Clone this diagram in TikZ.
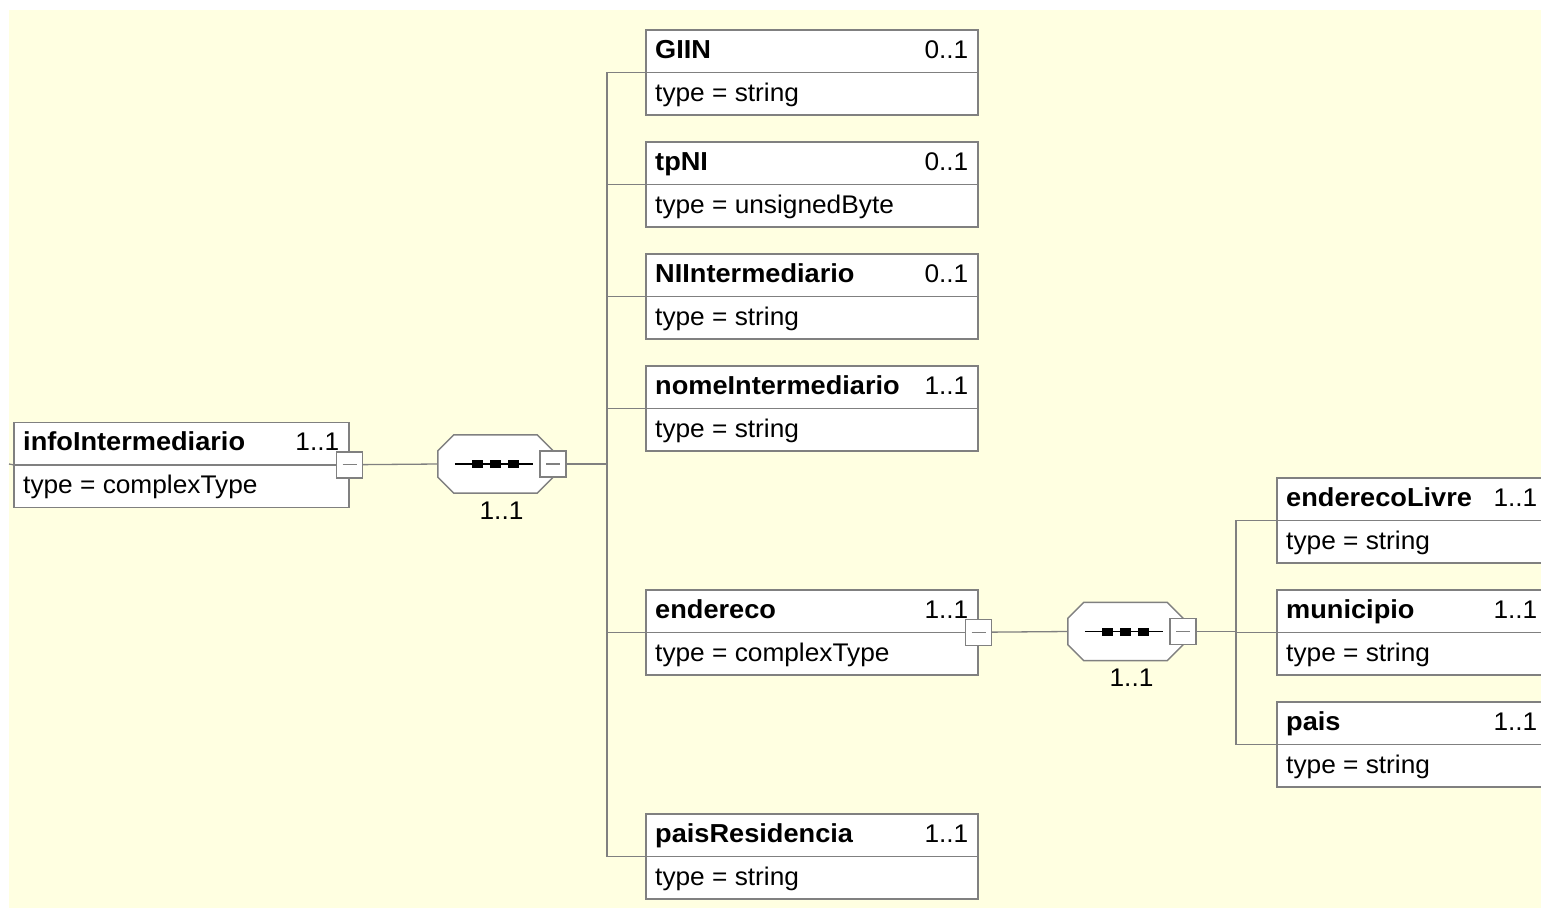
\documentclass[tikz,border=0pt]{standalone}
\usepackage{fontspec}
\setmainfont[FakeStretch=1.03, BoldFeatures={FakeStretch=1.045}]{Liberation Sans}

\definecolor{canvas}{RGB}{255,255,225}
\definecolor{edge}{RGB}{128,128,128}

\tikzset{
  elem/.style={draw=edge, fill=white, line width=1.5pt, anchor=north west, minimum height=85, inner sep=0pt},
  elname/.style={anchor=base west, inner sep=0pt, font=\fontsize{26}{30}\selectfont\bfseries},
  elmult/.style={anchor=base east, inner sep=0pt, font=\fontsize{25.5}{30}\selectfont},
  eltype/.style={anchor=base west, inner sep=0pt, font=\fontsize{25.5}{30}\selectfont},
  wire/.style={draw=edge, line width=1.3pt},
  minus/.style={draw=edge, fill=white, line width=1.5pt, minimum size=26, inner sep=0pt,
    path picture={\draw[edge, line width=1.3pt] ([xshift=6pt]path picture bounding box.west) -- ([xshift=-6pt]path picture bounding box.east);}},
  seq/.style={minimum width=115, minimum height=58, inner sep=0pt},
}

% element box: name, x, y, width, title, multiplicity, type
\newcommand{\elembox}[7]{%
  \node[elem, minimum width=#4] (#1) at (#2,#3) {};
  \draw[edge, line width=1.5pt] (#1.west) -- (#1.east);
  \node[elname] (#1-name) at ([xshift=10,yshift=-29]#1.north west) {#5};
  \node[elmult] (#1-mult) at ([xshift=-10,yshift=-29]#1.north east) {#6};
  \node[eltype] (#1-type) at ([xshift=10,yshift=-72]#1.north west) {type = #7};
}

% sequence compositor outline
\newcommand{\seqshape}[1]{%
  \draw[edge, fill=white, line width=1.5pt] ([xshift=16]#1.north west) -- ([xshift=-16]#1.north east)
    -- ([yshift=-16]#1.north east) -- ([yshift=16]#1.south east) -- ([xshift=-16]#1.south east)
    -- ([xshift=16]#1.south west) -- ([yshift=16]#1.south west) -- ([yshift=-16]#1.north west) -- cycle;
  \draw[line width=1.5pt] ([xshift=17]#1.west) -- ([xshift=95]#1.west);
  \fill ([xshift=34,yshift=4]#1.west) rectangle ++(11,8);
  \fill ([xshift=52,yshift=4]#1.west) rectangle ++(11,8);
  \fill ([xshift=70,yshift=4]#1.west) rectangle ++(11,8);
  \node[elmult, anchor=base] (#1-mult) at ([xshift=6,yshift=-26]#1.south) {1..1};
}

\begin{document}
\begin{tikzpicture}[x=1pt,y=-1pt]
\clip (0,0) rectangle (1541,908);
\fill[canvas] (9,10) rectangle (1541,908);

% root element
\coordinate (in) at (9,464);
\elembox{info}{13}{421.5}{335}{infoIntermediario}{1..1}{complexType}
\node[seq] (seq1) at (495.5,464) {};
\coordinate (bus1) at (607,464);

% children of the first sequence
\elembox{giin}{645}{29}{332}{GIIN}{0..1}{string}
\elembox{tpni}{645}{141}{332}{tpNI}{0..1}{unsignedByte}
\elembox{niint}{645}{253}{332}{NIIntermediario}{0..1}{string}
\elembox{nomeint}{645}{365}{332}{nomeIntermediario}{1..1}{string}
\elembox{endereco}{645}{589}{332}{endereco}{1..1}{complexType}
\elembox{paisres}{645}{813}{332}{paisResidencia}{1..1}{string}

% children of the second sequence
\node[seq] (seq2) at (1125.5,631.5) {};
\coordinate (bus2) at (1236,631.5);
\elembox{endlivre}{1276}{477}{270}{enderecoLivre}{1..1}{string}
\elembox{municipio}{1276}{589}{270}{municipio}{1..1}{string}
\elembox{pais}{1276}{701}{270}{pais}{1..1}{string}

% wires
\draw[wire] (in) -- (info.west);
\draw[wire] (info.east) -- (seq1.west);
\draw[wire] (seq1.east) -- (bus1);
\draw[wire] (giin.west) -| (bus1);
\draw[wire] (tpni.west) -| (bus1);
\draw[wire] (niint.west) -| (bus1);
\draw[wire] (nomeint.west) -| (bus1);
\draw[wire] (endereco.west) -| (bus1);
\draw[wire] (paisres.west) -| (bus1);
\draw[wire] (endereco.east) -- (seq2.west);
\draw[wire] (seq2.east) -- (bus2);
\draw[wire] (endlivre.west) -| (bus2);
\draw[wire] (municipio.west) -| (bus2);
\draw[wire] (pais.west) -| (bus2);

% compositors and collapse buttons
\seqshape{seq1}
\seqshape{seq2}
\node[minus] (infom) at (info.east) {};
\node[minus] (seq1m) at (seq1.east) {};
\node[minus] (enderecom) at (endereco.east) {};
\node[minus] (seq2m) at (seq2.east) {};
\end{tikzpicture}
\end{document}
